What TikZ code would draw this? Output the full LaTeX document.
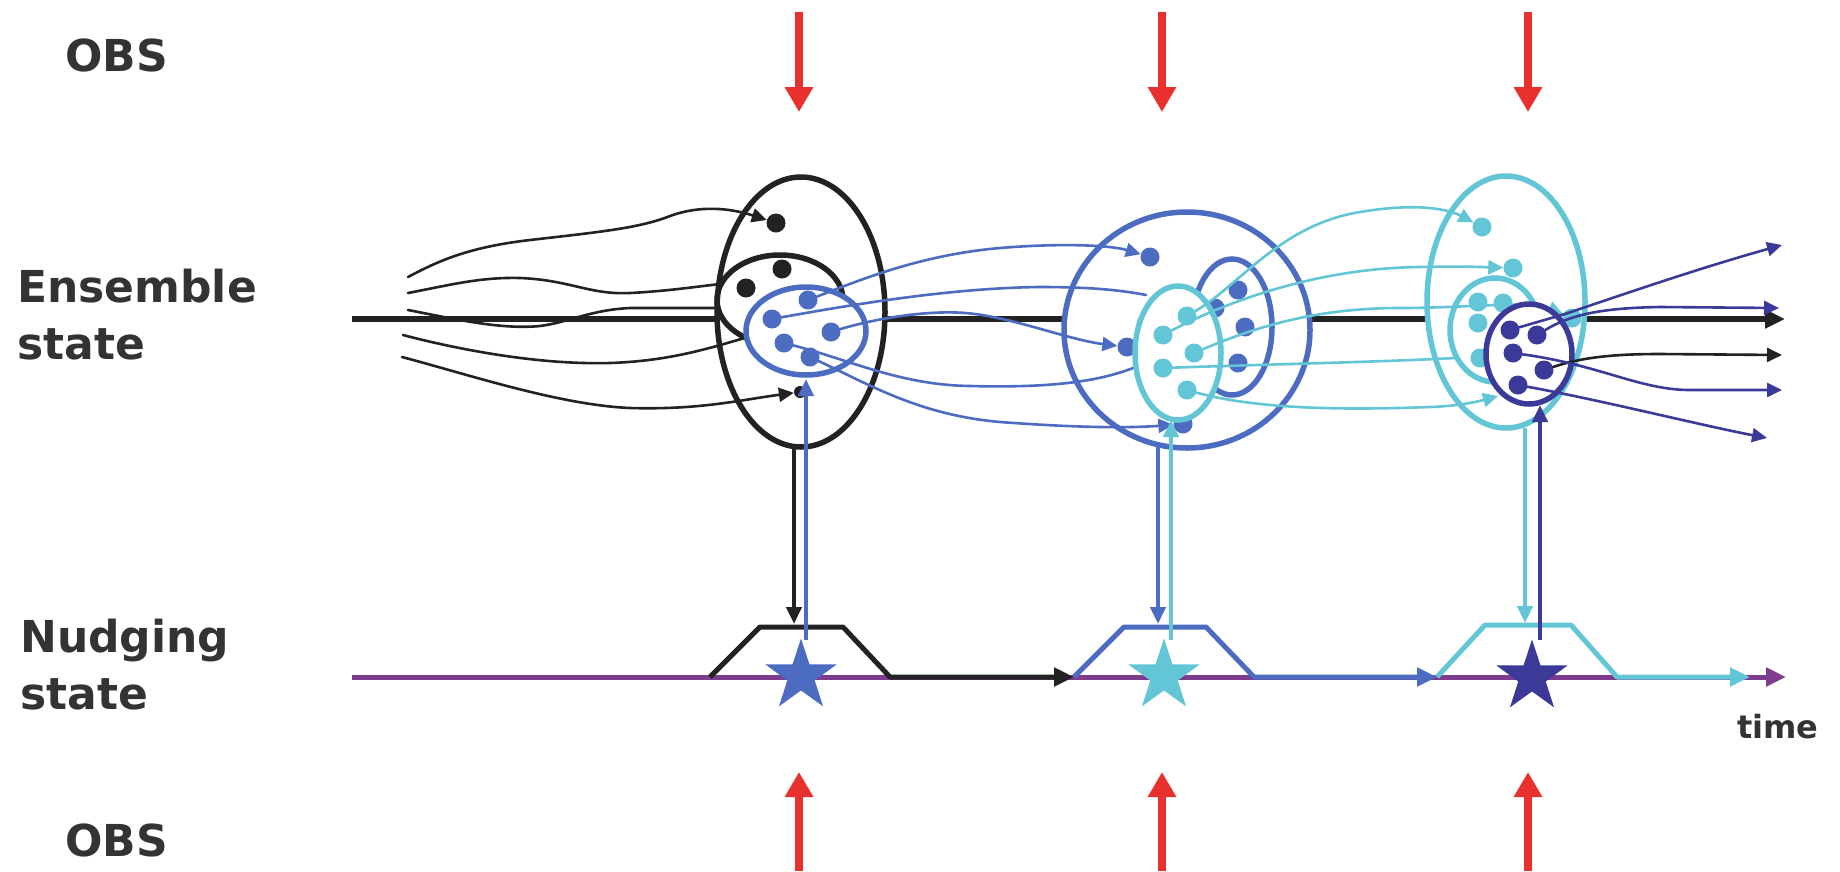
\documentclass[tikz,border=0pt]{standalone}
\usepackage{fontspec}
\setmainfont{DejaVu Sans}
\usetikzlibrary{arrows.meta,shapes.geometric}
\definecolor{kblk}{HTML}{222222}
\definecolor{cblue}{HTML}{4B6CC1}
\definecolor{ccyan}{HTML}{62C6D6}
\definecolor{cnavy}{HTML}{3B3A98}
\definecolor{cpurp}{HTML}{7D3C8E}
\definecolor{cred}{HTML}{E8312F}
\definecolor{ctxt}{HTML}{333333}
\begin{document}
\begin{tikzpicture}[x=1pt,y=-1pt,
  lbl/.style={font=\fontsize{44}{52}\selectfont\bfseries, text=ctxt, inner sep=0pt, anchor=base west},
  ell/.style={ellipse, draw=#1, line width=5.5pt, inner sep=0pt},
  ellw/.style={ellipse, draw=#1, fill=white, line width=5.5pt, inner sep=0pt},
  dot/.style={circle, fill=#1, inner sep=0pt, minimum size=19pt},
  trj/.style={line width=2.6pt, draw=#1, line cap=round},
  arrS/.style={-{Triangle[length=15pt,width=14pt]}},
  axisln/.style={line width=6pt, draw=#1, -{Triangle[length=20pt,width=18pt]}},
  nud/.style={line width=5pt, draw=#1, line join=round, -{Triangle[length=20pt,width=18pt]}},
  vln/.style={line width=4.5pt, draw=#1, -{Triangle[length=17pt,width=15pt]}},
  obsarr/.style={line width=8pt, draw=cred, -{Triangle[length=25pt,width=27pt]}},
  nstar/.style={star, star points=5, star point ratio=2.6, minimum size=75pt, inner sep=0pt, fill=#1}
]
\useasboundingbox (0,0) rectangle (1840,871);

% ---------- labels ----------
\node[lbl] (obsT) at (65,71) {OBS};
\node[lbl] (ens1) at (17,302) {Ensemble};
\node[lbl] (ens2) at (17,359) {state};
\node[lbl] (nud1) at (20,652) {Nudging};
\node[lbl] (nud2) at (20,709) {state};
\node[lbl] (obsB) at (65,856) {OBS};
\node[lbl, font=\fontsize{32}{38}\selectfont\bfseries] (tlab) at (1737,738) {time};

% ---------- OBS arrows ----------
\foreach \i/\xx in {1/799,2/1162,3/1528}{
  \coordinate (ot\i) at (\xx,12);
  \coordinate (oth\i) at (\xx,112);
  \coordinate (ob\i) at (\xx,871);
  \coordinate (obh\i) at (\xx,772);
  \draw[obsarr] (ot\i) -- (oth\i);
  \draw[obsarr] (ob\i) -- (obh\i);
}

% ---------- axes ----------
\coordinate (ea0) at (352,319);
\coordinate (ea1) at (1785,319);
\coordinate (na0) at (352,677);
\coordinate (na1) at (1786,677);
\draw[axisln=kblk] (ea0) -- (ea1);
\draw[axisln=cpurp, line width=5pt] (na0) -- (na1);

% ---------- big ellipses ----------
\node[ellw=kblk, minimum width=168pt, minimum height=270pt] (E1) at (801,312) {};
\node[ell=kblk, minimum width=126pt, minimum height=90pt] (E1i) at (780,300) {};
\node[ellw=cblue, minimum width=246pt, minimum height=236pt] (E2) at (1187,330) {};
\node[ell=cblue, minimum width=80pt, minimum height=136pt] (E2i) at (1232,327) {};
\node[ellw=ccyan, minimum width=158pt, minimum height=252pt] (E3) at (1506,302) {};
\node[ell=ccyan, minimum width=90pt, minimum height=104pt] (E3i) at (1495,330) {};

% ---------- black trajectories ----------
\coordinate (s1) at (408,277);
\coordinate (s2) at (408,293);
\coordinate (s3) at (408,310);
\coordinate (s4) at (403,335);
\coordinate (s5) at (402,357);
\coordinate (e2) at (721,284);
\coordinate (e3) at (718,308);
\coordinate (e4) at (748,337);
\node[dot=kblk] (bk1) at (776,223) {};
\node[dot=kblk] (bk2) at (782,269) {};
\node[dot=kblk] (bk3) at (746,288) {};
\node[dot=kblk, minimum size=12pt] (bk4) at (800,392) {};
\draw[trj=kblk, arrS] (s1) .. controls (440,260) and (470,247) .. (530,240)
   .. controls (600,232) and (640,228) .. (670,216) .. controls (700,205) and (730,208) .. (bk1);
\draw[trj=kblk] (s2) .. controls (450,285) and (480,277) .. (520,278)
   .. controls (570,280) and (590,295) .. (630,293) .. controls (670,291) and (700,286) .. (e2);
\draw[trj=kblk] (s3) .. controls (450,318) and (500,330) .. (540,326)
   .. controls (570,322) and (590,310) .. (630,308) -- (e3);
\draw[trj=kblk] (s4) .. controls (460,350) and (540,365) .. (610,363)
   .. controls (670,361) and (710,348) .. (e4);
\draw[trj=kblk, arrS] (s5) .. controls (470,375) and (560,405) .. (630,408)
   .. controls (700,410) and (740,400) .. (bk4);

% ---------- blue ellipse in E1 ----------
\node[ellw=cblue, minimum width=120pt, minimum height=88pt] (E1b) at (806,331) {};
\node[dot=cblue] (b1) at (808,300) {};
\node[dot=cblue] (b2) at (772,319) {};
\node[dot=cblue] (b3) at (831,332) {};
\node[dot=cblue] (b4) at (784,343) {};
\node[dot=cblue] (b5) at (810,357) {};

% ---------- blue dots in E2 ----------
\node[dot=cblue] (c2a) at (1150,257) {};
\node[dot=cblue] (c2b) at (1127,347) {};
\node[dot=cblue] (c2c) at (1183,424) {};
\node[dot=cblue] (c2d) at (1238,290) {};
\node[dot=cblue] (c2e) at (1215,308) {};
\node[dot=cblue] (c2f) at (1245,327) {};
\node[dot=cblue] (c2g) at (1238,363) {};

% ---------- blue trajectories E1 -> E2 ----------
\coordinate (eb) at (1146,295);
\coordinate (ed) at (1138,366);
\draw[trj=cblue, arrS] (b1) .. controls (860,280) and (920,255) .. (1000,248)
   .. controls (1060,243) and (1110,245) .. (c2a);
\draw[trj=cblue] (b2) .. controls (850,305) and (950,288) .. (1040,287)
   .. controls (1090,287) and (1120,290) .. (eb);
\draw[trj=cblue, arrS] (b3) .. controls (870,320) and (930,308) .. (975,314)
   .. controls (1020,320) and (1070,340) .. (c2b);
\draw[trj=cblue] (b4) .. controls (850,360) and (900,385) .. (970,386)
   .. controls (1050,388) and (1100,382) .. (ed);
\draw[trj=cblue, arrS] (b5) .. controls (870,385) and (920,415) .. (1000,422)
   .. controls (1080,428) and (1130,428) .. (c2c);

% ---------- cyan ellipse in E2 ----------
\node[ellw=ccyan, minimum width=86pt, minimum height=134pt] (E2c) at (1178,353) {};
\node[dot=ccyan] (y1) at (1187,316) {};
\node[dot=ccyan] (y2) at (1163,335) {};
\node[dot=ccyan] (y3) at (1194,353) {};
\node[dot=ccyan] (y4) at (1163,368) {};
\node[dot=ccyan] (y5) at (1187,390) {};

% ---------- cyan dots in E3 ----------
\node[dot=ccyan] (z1) at (1482,227) {};
\node[dot=ccyan] (z2) at (1513,268) {};
\node[dot=ccyan] (z3) at (1478,302) {};
\node[dot=ccyan] (z4) at (1503,303) {};
\node[dot=ccyan] (z5) at (1478,323) {};
\node[dot=ccyan] (z6) at (1480,358) {};
\node[dot=ccyan] (z7) at (1572,318) {};

% ---------- cyan trajectories E2 -> E3 ----------
\coordinate (ez) at (1455,358);
\coordinate (eE) at (1498,396);
\draw[trj=ccyan, arrS] (y1) .. controls (1240,285) and (1280,225) .. (1360,212)
   .. controls (1420,202) and (1450,210) .. (z1);
\draw[trj=ccyan, arrS] (y2) .. controls (1230,300) and (1320,268) .. (1420,267)
   .. controls (1460,266) and (1480,267) .. (z2);
\draw[trj=ccyan, arrS] (y3) .. controls (1260,325) and (1320,308) .. (1400,308)
   .. controls (1470,308) and (1530,300) .. (z7);
\draw[trj=ccyan] (y4) .. controls (1280,364) and (1380,362) .. (ez);
\draw[trj=ccyan, arrS] (y5) .. controls (1260,410) and (1350,410) .. (1430,407)
   .. controls (1460,406) and (1480,401) .. (eE);

% ---------- navy circle ----------
\node[ellw=cnavy, minimum width=86pt, minimum height=100pt] (N) at (1529,354) {};
\node[dot=cnavy] (n1) at (1510,330) {};
\node[dot=cnavy] (n2) at (1537,335) {};
\node[dot=cnavy] (n3) at (1513,353) {};
\node[dot=cnavy] (n4) at (1544,370) {};
\node[dot=cnavy] (n5) at (1518,385) {};

\coordinate (o1) at (1782,245);
\coordinate (o2) at (1779,308);
\coordinate (o3) at (1782,355);
\coordinate (o4) at (1782,390);
\coordinate (o5) at (1767,438);
\draw[trj=cnavy, arrS] (n1) -- (1565,314) .. controls (1630,292) and (1700,268) .. (o1);
\draw[trj=cnavy, arrS] (n2) .. controls (1570,315) and (1600,308) .. (1660,307) -- (o2);
\draw[trj=kblk, arrS] (n4) .. controls (1580,358) and (1610,354) .. (1660,354) -- (o3);
\draw[trj=cnavy, arrS] (n3) .. controls (1600,365) and (1640,390) .. (1690,390) -- (o4);
\draw[trj=cnavy, arrS] (n5) .. controls (1600,400) and (1700,425) .. (o5);

% ---------- nudging trapezoids ----------
\coordinate (t1a) at (710,677); \coordinate (t1b) at (760,627);
\coordinate (t1c) at (843,627); \coordinate (t1d) at (890,677);
\coordinate (t2a) at (1074,677); \coordinate (t2b) at (1124,627);
\coordinate (t2c) at (1206,627); \coordinate (t2d) at (1254,677);
\coordinate (t3a) at (1437,677); \coordinate (t3b) at (1485,625);
\coordinate (t3c) at (1571,625); \coordinate (t3d) at (1617,677);
\coordinate (t4) at (1750,677);
\draw[nud=kblk] (t1a) -- (t1b) -- (t1c) -- (t1d) -- (t2a);
\draw[nud=cblue] (t2a) -- (t2b) -- (t2c) -- (t2d) -- (t3a);
\draw[nud=ccyan] (t3a) -- (t3b) -- (t3c) -- (t3d) -- (t4);

\node[nstar=cblue] (S1) at (801,676) {};
\node[nstar=ccyan] (S2) at (1164,676) {};
\node[nstar=cnavy] (S3) at (1532,677) {};

% ---------- vertical arrows ----------
\coordinate (v1d0) at (794,446); \coordinate (v1d1) at (794,624);
\coordinate (v1u0) at (806,640); \coordinate (v1u1) at (806,379);
\coordinate (v2d0) at (1158,447); \coordinate (v2d1) at (1158,624);
\coordinate (v2u0) at (1171,640); \coordinate (v2u1) at (1171,420);
\coordinate (v3d0) at (1525,428); \coordinate (v3d1) at (1525,623);
\coordinate (v3u0) at (1540,640); \coordinate (v3u1) at (1540,405);
\draw[vln=kblk] (v1d0) -- (v1d1);
\draw[vln=cblue] (v1u0) -- (v1u1);
\draw[vln=cblue] (v2d0) -- (v2d1);
\draw[vln=ccyan] (v2u0) -- (v2u1);
\draw[vln=ccyan] (v3d0) -- (v3d1);
\draw[vln=cnavy] (v3u0) -- (v3u1);
\end{tikzpicture}
\end{document}
